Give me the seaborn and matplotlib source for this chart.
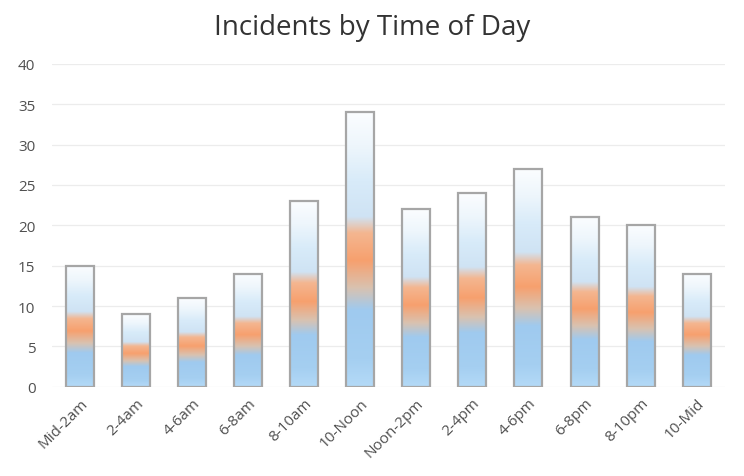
import numpy as np
import pandas as pd
import matplotlib
matplotlib.use("Agg")
import matplotlib.pyplot as plt
import seaborn as sns
from matplotlib.colors import LinearSegmentedColormap

# data
time_slots = ["Mid-2am", "2-4am", "4-6am", "6-8am", "8-10am", "10-Noon",
              "Noon-2pm", "2-4pm", "4-6pm", "6-8pm", "8-10pm", "10-Mid"]
incidents = [15, 9, 11, 14, 23, 34, 22, 24, 27, 21, 20, 14]

df = pd.DataFrame({"slot": time_slots, "count": incidents})

sns.set_style("white")
plt.rcParams["font.family"] = ["Open Sans", "DejaVu Sans"]

# blue -> orange band -> pale blue -> white, bottom to top
grad = LinearSegmentedColormap.from_list("bar_grad", [
    (0.00, "#b4daf7"),
    (0.10, "#a5cff1"),
    (0.28, "#9fcaef"),
    (0.36, "#d9c2b0"),
    (0.46, "#f7a06e"),
    (0.56, "#f4b690"),
    (0.62, "#cfe3f4"),
    (0.75, "#d8ebf9"),
    (0.88, "#eef6fc"),
    (1.00, "#fbfdff"),
])

fig = plt.figure(figsize=(7.44, 4.77), dpi=100)
ax = fig.add_axes([0.07, 0.187, 0.904, 0.677])

sns.barplot(data=df, x="slot", y="count", width=0.5, ax=ax,
            color="white", edgecolor="#a6a6a6", linewidth=1.6, zorder=3)

g = np.linspace(0, 1, 256).reshape(-1, 1)
for p in ax.patches:
    x0, y0 = p.get_x(), p.get_y()
    w, h = p.get_width(), p.get_height()
    im = ax.imshow(g, cmap=grad, origin="lower", aspect="auto",
                   extent=[x0, x0 + w, y0, y0 + h], zorder=2)
    im.set_clip_path(p)
    p.set_facecolor("none")

ax.set_xlim(-0.5, len(time_slots) - 0.5)
ax.set_ylim(0, 40)
ax.set_yticks(range(0, 41, 5))
ax.yaxis.grid(True, color="#ececec", linewidth=0.9)
ax.set_axisbelow(True)
for s in ax.spines.values():
    s.set_visible(False)

ax.set_xlabel("")
ax.set_ylabel("")
ax.tick_params(axis="both", length=0, colors="#505050", labelsize=11)
ax.tick_params(axis="y", pad=12)
ax.tick_params(axis="x", pad=6)
plt.setp(ax.get_xticklabels(), rotation=45, ha="right", rotation_mode="anchor")

fig.suptitle("Incidents by Time of Day", y=0.97, fontsize=20, color="#333333")

fig.savefig("out.png", dpi=100)
